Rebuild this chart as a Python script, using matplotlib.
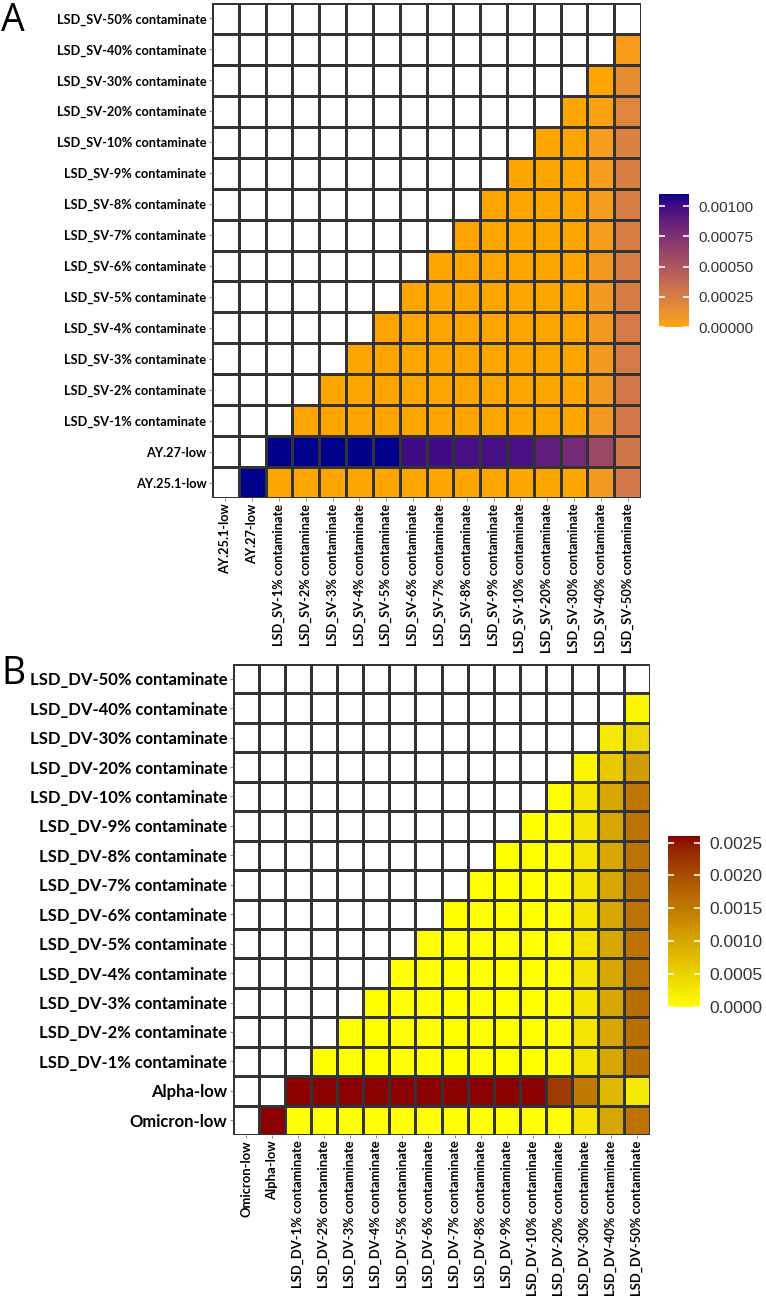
import numpy as np
import matplotlib
matplotlib.use("Agg")
import matplotlib.pyplot as plt
from matplotlib.colors import ListedColormap

# ---- data ----
pcts = [1, 2, 3, 4, 5, 6, 7, 8, 9, 10, 20, 30, 40, 50]
labels_a = ["AY.25.1-low", "AY.27-low"] + ["LSD_SV-%d%% contaminate" % p for p in pcts]
labels_b = ["Omicron-low", "Alpha-low"] + ["LSD_DV-%d%% contaminate" % p for p in pcts]

# values (x 1e-3), row i holds the cells of columns i+1 .. 15
rows_a = [
    [1.1, 0, 0, 0, 0, 0, 0, 0, 0, 0, 0, 0, 0, 0.07, 0.28],
    [1.1, 1.1, 1.1, 1.1, 1.1, 1.0, 1.0, 0.98, 0.98, 0.97, 0.88, 0.80, 0.60, 0.30],
    [0, 0, 0, 0, 0, 0, 0, 0, 0, 0, 0, 0.07, 0.28],
    [0, 0, 0, 0, 0, 0, 0, 0, 0, 0, 0.07, 0.28],
    [0, 0, 0, 0, 0, 0, 0, 0, 0, 0.07, 0.27],
    [0, 0, 0, 0, 0, 0, 0, 0, 0.07, 0.27],
    [0, 0, 0, 0, 0, 0, 0, 0.07, 0.26],
    [0, 0, 0, 0, 0, 0, 0.07, 0.26],
    [0, 0, 0, 0, 0, 0.06, 0.25],
    [0, 0, 0, 0, 0.06, 0.25],
    [0, 0, 0, 0.06, 0.24],
    [0, 0, 0.06, 0.23],
    [0, 0.03, 0.20],
    [0, 0.15],
    [0.05],
    [],
]

rows_b = [
    [2.6, 0, 0, 0, 0, 0, 0, 0, 0, 0, 0, 0, 0.3, 1.0, 1.6],
    [2.6, 2.6, 2.6, 2.6, 2.6, 2.6, 2.6, 2.6, 2.6, 2.6, 2.2, 1.5, 0.8, 0.25],
    [0, 0, 0, 0, 0, 0, 0, 0, 0, 0, 0.3, 1.0, 1.65],
    [0, 0, 0, 0, 0, 0, 0, 0, 0, 0.3, 1.0, 1.65],
    [0, 0, 0, 0, 0, 0, 0, 0, 0.3, 1.0, 1.65],
    [0, 0, 0, 0, 0, 0, 0, 0.3, 1.0, 1.6],
    [0, 0, 0, 0, 0, 0, 0.3, 1.0, 1.6],
    [0, 0, 0, 0, 0, 0.3, 1.0, 1.6],
    [0, 0, 0, 0, 0.3, 1.0, 1.6],
    [0, 0, 0, 0.3, 1.0, 1.6],
    [0, 0, 0.3, 1.0, 1.6],
    [0, 0.3, 1.0, 1.55],
    [0.1, 0.6, 1.1],
    [0.25, 0.45],
    [0.1],
    [],
]

ticks_a = [0, 0.00025, 0.0005, 0.00075, 0.001]
ticks_b = [0, 0.0005, 0.001, 0.0015, 0.002, 0.0025]


# ---- helpers ----
def srgb_to_lab(rgb):
    rgb = np.asarray(rgb, dtype=float)
    lin = np.where(rgb <= 0.04045, rgb / 12.92, ((rgb + 0.055) / 1.055) ** 2.4)
    m = np.array([[0.4124, 0.3576, 0.1805],
                  [0.2126, 0.7152, 0.0722],
                  [0.0193, 0.1192, 0.9505]])
    xyz = m @ lin / np.array([0.95047, 1.0, 1.08883])
    f = np.where(xyz > 0.008856, np.cbrt(xyz), 7.787 * xyz + 16 / 116)
    return np.array([116 * f[1] - 16, 500 * (f[0] - f[1]), 200 * (f[1] - f[2])])


def lab_to_srgb(lab):
    L, a, b = lab
    fy = (L + 16) / 116
    f = np.array([fy + a / 500, fy, fy - b / 200])
    xyz = np.where(f ** 3 > 0.008856, f ** 3, (f - 16 / 116) / 7.787)
    xyz = xyz * np.array([0.95047, 1.0, 1.08883])
    m = np.array([[3.2406, -1.5372, -0.4986],
                  [-0.9689, 1.8758, 0.0415],
                  [0.0557, -0.2040, 1.0570]])
    lin = m @ xyz
    rgb = np.where(lin <= 0.0031308, 12.92 * lin, 1.055 * np.clip(lin, 0, None) ** (1 / 2.4) - 0.055)
    return np.clip(rgb, 0, 1)


def lab_cmap(low, high):
    # ggplot-style gradient, interpolated in CIELAB
    lo = srgb_to_lab(matplotlib.colors.to_rgb(low))
    hi = srgb_to_lab(matplotlib.colors.to_rgb(high))
    cols = [lab_to_srgb(lo + (hi - lo) * t) for t in np.linspace(0, 1, 256)]
    cmap = ListedColormap(cols)
    cmap.set_bad("white")
    return cmap


def to_matrix(rows):
    n = len(rows)
    m = np.full((n, n), np.nan)
    for i, r in enumerate(rows):
        m[i, i + 1:i + 1 + len(r)] = np.array(r) * 1e-3
    return np.ma.masked_invalid(m)


def draw_panel(ax, cax, mat, labels, cmap, ticks, fmt, xfs, yfs, cfs):
    n = len(labels)
    mesh = ax.pcolormesh(np.arange(n + 1), np.arange(n + 1), mat, cmap=cmap,
                         vmin=0, vmax=mat.max(), edgecolors="#333333", linewidth=0.9)
    ax.set_xlim(0, n)
    ax.set_ylim(0, n)
    ax.set_xticks(np.arange(n) + 0.5)
    ax.set_yticks(np.arange(n) + 0.5)
    ax.set_xticklabels(labels, rotation=90, fontsize=xfs, fontweight="bold", family="Lato")
    ax.set_yticklabels(labels, fontsize=yfs, fontweight="bold", family="Lato")
    ax.tick_params(length=2.5, color="#777777", pad=1.5, width=0.6)
    for s in ax.spines.values():
        s.set_visible(False)

    cb = plt.colorbar(mesh, cax=cax, ticks=ticks, format=fmt)
    cb.outline.set_visible(False)
    cax.tick_params(axis="y", direction="in", color="white", length=4, width=1.2,
                    left=True, right=True, labelcolor="#333333", labelsize=cfs, pad=7)
    for t in cax.get_yticklabels():
        t.set_family("Liberation Sans")
    return mesh


W, H = 766, 1304
fig = plt.figure(figsize=(W / 100, H / 100), dpi=100)

ax_a = fig.add_axes([212 / W, (H - 498) / H, 429 / W, 495 / H])
cax_a = fig.add_axes([659 / W, (H - 327) / H, 30 / W, 133 / H])
ax_b = fig.add_axes([233 / W, (H - 1135) / H, 417 / W, 471 / H])
cax_b = fig.add_axes([668 / W, (H - 1007) / H, 32 / W, 171 / H])

draw_panel(ax_a, cax_a, to_matrix(rows_a), labels_a,
           lab_cmap("orange", "darkblue"), ticks_a, "%.5f", 9.2, 9.2, 11)
draw_panel(ax_b, cax_b, to_matrix(rows_b), labels_b,
           lab_cmap("yellow", "darkred"), ticks_b, "%.4f", 9.4, 12, 12.5)

fig.text(1 / W, 1 - 2 / H, "A", fontsize=27, va="top", ha="left", family="Open Sans")
fig.text(1 / W, 1 - 655 / H, "B", fontsize=27, va="top", ha="left", family="Open Sans")

fig.savefig("out.png", dpi=100)
